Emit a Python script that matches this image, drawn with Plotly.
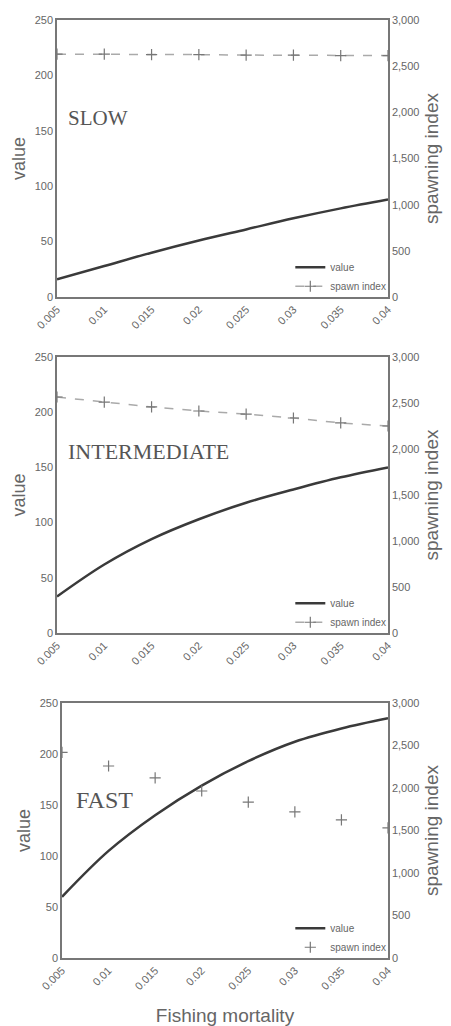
import plotly.graph_objects as go

mortality = [0.005, 0.01, 0.015, 0.02, 0.025, 0.03, 0.035, 0.04]
tick_labels = ["0.005", "0.01", "0.015", "0.02", "0.025", "0.03", "0.035", "0.04"]

value_slow = [16, 28, 40, 51, 61, 71, 80, 88]
value_inter = [33, 62, 85, 103, 118, 130, 141, 150]
value_fast = [60, 105, 140, 169, 193, 212, 225, 235]

spawn_slow = [2630, 2630, 2625, 2625, 2620, 2620, 2615, 2615]
spawn_inter = [2565, 2510, 2457, 2413, 2380, 2337, 2283, 2250]
spawn_fast = [2420, 2259, 2118, 1965, 1835, 1718, 1624, 1530]

panel_names = ["SLOW", "INTERMEDIATE", "FAST"]
panel_sizes = [21, 22, 24]

W, H = 451, 1026
ML, MR, MT, MB = 57, 63, 20, 68
PH = H - MT - MB
PW = W - ML - MR

def ydom(top, bottom):
    return [(H - MB - bottom) / PH, (H - MB - top) / PH]

panels = [
    dict(vals=value_slow, spawn=spawn_slow, yd=ydom(20, 297), xd=[0, 1], lab_y=118, lab_x=66, dashed=True),
    dict(vals=value_inter, spawn=spawn_inter, yd=ydom(357, 633), xd=[0, 1], lab_y=452, lab_x=66, dashed=True),
    dict(vals=value_fast, spawn=spawn_fast, yd=ydom(703, 958), xd=[5 / PW, 1], lab_y=800, lab_x=74, dashed=False),
]

fig = go.Figure()
FONT = "Liberation Sans, Arial"
tickfont = dict(family=FONT, size=11, color="#666")
annotations = []

for i, p in enumerate(panels):
    n = i + 1
    xa = "x" if n == 1 else f"x{n}"
    ya = f"y{2*n-1}" if n > 1 else "y"
    ya2 = f"y{2*n}"
    leg = "legend" if n == 1 else f"legend{n}"
    fig.add_trace(go.Scatter(
        x=mortality, y=p["vals"], mode="lines", name="value",
        line=dict(color="#3a3a3a", width=2.5, shape="spline", smoothing=1.0),
        xaxis=xa, yaxis=ya, legend=leg))
    fig.add_trace(go.Scatter(
        x=mortality, y=p["spawn"], mode="lines+markers" if p["dashed"] else "markers",
        name="spawn index",
        line=dict(color="#aaaaaa", width=1.5, dash="dash"),
        marker=dict(symbol="cross-thin", size=8, line=dict(color="#777", width=1.2)),
        xaxis=xa, yaxis=ya2, legend=leg))

    xkey = "xaxis" if n == 1 else f"xaxis{n}"
    ykey = "yaxis" if n == 1 else f"yaxis{2*n-1}"
    y2key = f"yaxis{2*n}"
    fig.layout[xkey] = dict(
        domain=p["xd"], anchor=ya, range=[0.005, 0.04], automargin=False,
        tickvals=mortality, ticktext=tick_labels, tickangle=-45,
        tickfont=tickfont, showgrid=False, zeroline=False,
        showline=True, linecolor="#777", linewidth=1.5, mirror=True,
        ticks="", title=dict(text="Fishing mortality" if n == 3 else "",
                             font=dict(family=FONT, size=19, color="#666"),
                             standoff=18))
    fig.layout[ykey] = dict(
        domain=p["yd"], anchor=xa, range=[0, 250], automargin=False,
        tickvals=[0, 50, 100, 150, 200, 250],
        tickfont=tickfont, showgrid=False, zeroline=False,
        showline=True, linecolor="#777", linewidth=1.5,
        ticks="", title=dict(text="value",
                             font=dict(family=FONT, size=18, color="#666"),
                             standoff=4))
    fig.layout[y2key] = dict(
        overlaying=ya, side="right", anchor=xa, range=[0, 3000], automargin=False,
        tickvals=[0, 500, 1000, 1500, 2000, 2500, 3000], tickformat=",",
        tickfont=tickfont, showgrid=False, zeroline=False,
        showline=True, linecolor="#777", linewidth=1.5,
        ticks="", title=dict(text="spawning index",
                             font=dict(family=FONT, size=19, color="#666"),
                             standoff=6))
    ybot = p["yd"][0]
    fig.layout[leg] = dict(
        x=1.01, xanchor="right", y=ybot - 0.004, yanchor="bottom",
        bgcolor="rgba(0,0,0,0)", font=dict(family=FONT, size=10, color="#666"),
        itemwidth=30, tracegroupgap=2)
    annotations.append(dict(
        text=panel_names[i], xref="paper", yref="paper",
        x=(p["lab_x"] - ML) / PW, y=(H - MB - p["lab_y"]) / PH,
        xanchor="left", yanchor="middle", showarrow=False,
        font=dict(family="Liberation Serif, Times New Roman", size=panel_sizes[i], color="#555")))

fig.update_layout(
    width=W, height=H, margin=dict(l=ML, r=MR, t=MT, b=MB, autoexpand=False),
    paper_bgcolor="white", plot_bgcolor="white",
    annotations=annotations, showlegend=True)

fig.write_html("out.html")
